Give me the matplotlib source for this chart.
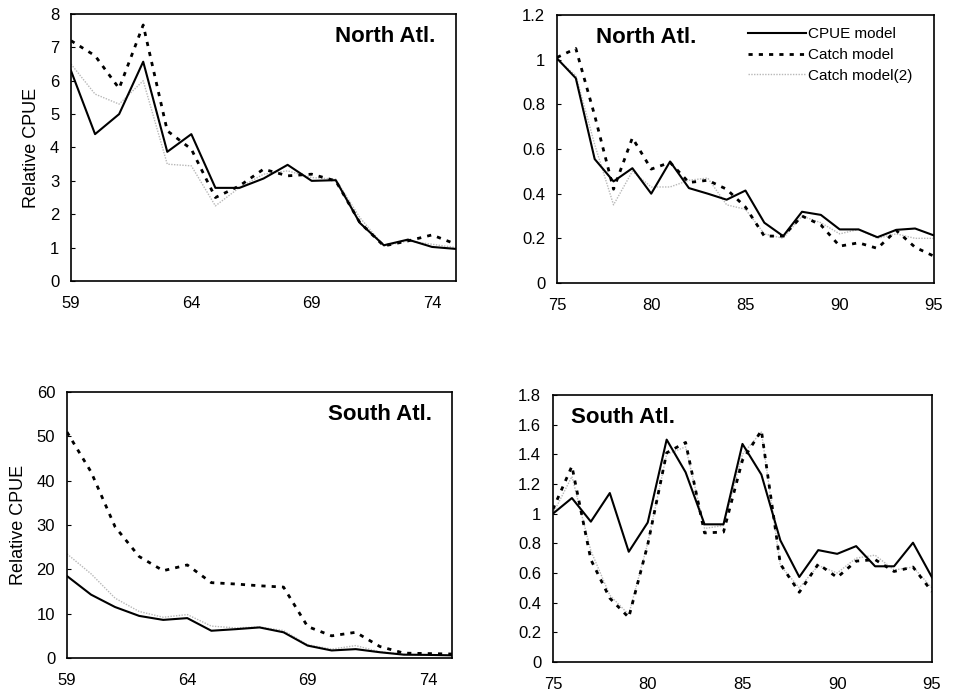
import matplotlib
matplotlib.use('Agg')
import matplotlib.pyplot as plt

plt.rcParams['font.family'] = ['Liberation Sans', 'DejaVu Sans']

# years
yrs_a = list(range(59, 76))     # 1959-1975
yrs_b = list(range(75, 96))     # 1975-1995

# North Atlantic 1959-75
na1_cpue = [6.3, 4.4, 5.0, 6.57, 3.87, 4.4, 2.79, 2.79, 3.07, 3.48, 3.0, 3.02, 1.74, 1.07, 1.24, 1.02, 0.96]
na1_catch = [7.2, 6.75, 5.77, 7.67, 4.5, 3.95, 2.5, 2.85, 3.35, 3.15, 3.2, 3.0, 1.75, 1.05, 1.2, 1.38, 1.1]
na1_catch2 = [6.5, 5.6, 5.3, 6.0, 3.5, 3.45, 2.25, 2.8, 3.2, 3.3, 3.1, 3.05, 1.9, 1.05, 1.2, 1.1, 1.0]

# North Atlantic 1975-95
na2_cpue = [1.006, 0.917, 0.555, 0.455, 0.514, 0.40, 0.544, 0.425, 0.40, 0.373, 0.414, 0.27, 0.21,
            0.319, 0.305, 0.24, 0.24, 0.205, 0.238, 0.244, 0.213]
na2_catch = [1.01, 1.05, 0.75, 0.42, 0.65, 0.51, 0.54, 0.45, 0.46, 0.42, 0.34, 0.21, 0.21,
             0.30, 0.26, 0.165, 0.18, 0.155, 0.235, 0.16, 0.12]
na2_catch2 = [1.0, 0.93, 0.62, 0.35, 0.5, 0.43, 0.43, 0.46, 0.47, 0.35, 0.33, 0.22, 0.2,
              0.3, 0.27, 0.22, 0.24, 0.2, 0.22, 0.2, 0.2]

# South Atlantic 1959-75
sa1_cpue = [18.5, 14.3, 11.5, 9.5, 8.6, 9.0, 6.15, 6.5, 6.9, 5.8, 2.8, 1.7, 2.0, 1.3, 0.75, 0.7, 0.6]
sa1_catch = [51.0, 42.0, 29.6, 22.9, 19.7, 21.0, 17.0, 16.7, 16.3, 16.0, 7.1, 5.0, 5.8, 2.6, 1.1, 1.0, 0.9]
sa1_catch2 = [23.5, 19.0, 13.5, 10.5, 9.2, 9.8, 7.2, 6.8, 7.0, 6.2, 3.0, 2.0, 2.8, 1.4, 0.8, 0.7, 0.6]

# South Atlantic 1975-95
sa2_cpue = [1.0, 1.105, 0.946, 1.139, 0.743, 0.94, 1.499, 1.279, 0.928, 0.928, 1.47, 1.263, 0.82,
            0.573, 0.754, 0.729, 0.781, 0.645, 0.645, 0.804, 0.571]
sa2_catch = [1.03, 1.32, 0.69, 0.43, 0.30, 0.79, 1.41, 1.48, 0.87, 0.876, 1.36, 1.56, 0.66,
             0.47, 0.66, 0.57, 0.68, 0.69, 0.61, 0.64, 0.475]
sa2_catch2 = [1.0, 1.25, 0.75, 0.45, 0.32, 0.8, 1.4, 1.45, 0.9, 0.92, 1.4, 1.55, 0.65,
              0.5, 0.65, 0.6, 0.7, 0.72, 0.62, 0.64, 0.5]

fig = plt.figure(figsize=(9.58, 6.96), dpi=100)

panels = [
    # rect, years, series, ylim, yticks, ticklabels, xticks, title, title x, ha, ylabel
    ([0.0741, 0.5963, 0.402, 0.3836], yrs_a, (na1_cpue, na1_catch, na1_catch2), 8,
     range(0, 9), None, [59, 64, 69, 74], 'North Atl.', 0.945, 'right', True),
    ([0.5814, 0.5934, 0.3935, 0.385], yrs_b, (na2_cpue, na2_catch, na2_catch2), 1.2,
     [0, 0.2, 0.4, 0.6, 0.8, 1, 1.2], ['0', '0.2', '0.4', '0.6', '0.8', '1', '1.2'],
     [75, 80, 85, 90, 95], 'North Atl.', 0.103, 'left', False),
    ([0.0699, 0.0546, 0.4019, 0.382], yrs_a, (sa1_cpue, sa1_catch, sa1_catch2), 60,
     range(0, 61, 10), None, [59, 64, 69, 74], 'South Atl.', 0.948, 'right', True),
    ([0.5772, 0.0489, 0.3956, 0.3836], yrs_b, (sa2_cpue, sa2_catch, sa2_catch2), 1.8,
     [0, 0.2, 0.4, 0.6, 0.8, 1, 1.2, 1.4, 1.6, 1.8],
     ['0', '0.2', '0.4', '0.6', '0.8', '1', '1.2', '1.4', '1.6', '1.8'],
     [75, 80, 85, 90, 95], 'South Atl.', 0.047, 'left', False),
]

for i, (rect, yrs, ser, ytop, yt, ytl, xt, title, tx, ha, ylab) in enumerate(panels):
    ax = fig.add_axes(rect)
    cpue, catch, catch2 = ser
    ax.plot(yrs, catch2, color='#b8b8b8', lw=1.0, ls=(0, (1, 1)), label='Catch model(2)', zorder=1)
    ax.plot(yrs, cpue, color='black', lw=1.5, ls='-', label='CPUE model', zorder=3)
    ax.plot(yrs, catch, color='black', lw=2.0, ls=(0, (1.5, 2.2)), label='Catch model', zorder=2)
    ax.set_xlim(yrs[0], yrs[-1])
    ax.set_ylim(0, ytop)
    ax.set_yticks(list(yt))
    if ytl is not None:
        ax.set_yticklabels(ytl)
    ax.set_xticks(xt)
    ax.tick_params(axis='y', labelsize=12, direction='in', length=3, width=0.8, pad=8.5)
    ax.tick_params(axis='x', labelsize=12, length=0, pad=11)
    for s in ax.spines.values():
        s.set_linewidth(1.2)
    ax.text(tx, 0.915, title, transform=ax.transAxes, ha=ha, va='center',
            fontsize=16, fontweight='bold')
    if ylab:
        ax.set_ylabel('Relative CPUE', fontsize=13, labelpad=7)
    if i == 1:
        h, l = ax.get_legend_handles_labels()
        order = [1, 2, 0]
        ax.legend([h[k] for k in order], [l[k] for k in order], loc='upper right',
                  frameon=False, fontsize=11, handlelength=3.8, handletextpad=0.15,
                  labelspacing=0.45, borderpad=0, borderaxespad=0,
                  bbox_to_anchor=(0.944, 0.955))

fig.savefig('out.png', dpi=100)
